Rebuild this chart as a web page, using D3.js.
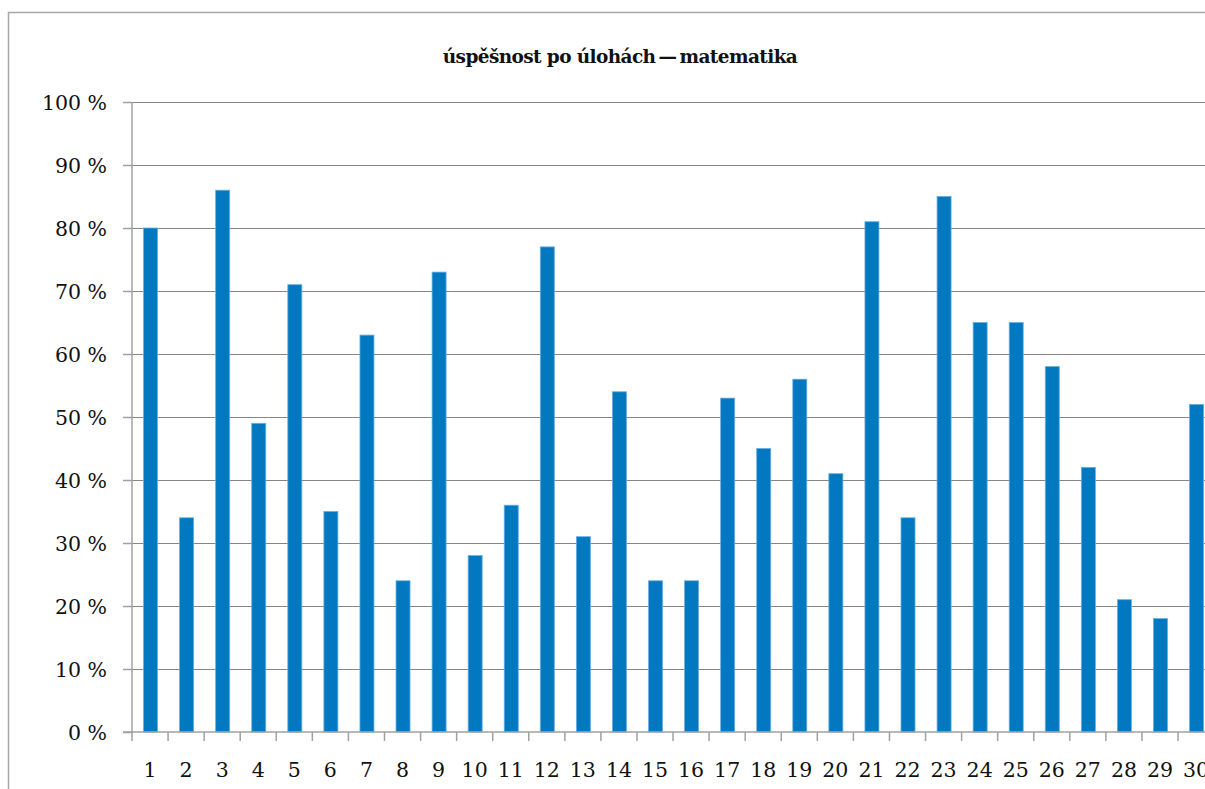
<!DOCTYPE html>
<html>
<head>
	<meta charset="utf-8">
	<title>úspěšnost po úlohách — matematika</title>
	<script src="https://d3js.org/d3.v7.min.js"></script>
	<style type="text/css">
		body {
			margin: 0;
			background: #fff;
		}
		svg {
			display: block;
		}
		.frame {
			fill: none;
			stroke: #a6a6a6;
			stroke-width: 1.5;
		}
		.grid line {
			stroke: #868686;
			stroke-width: 1;
		}
		.axis path, .axis line {
			stroke: #a0a0a0;
			stroke-width: 1.5;
		}
		.axis text {
			font-family: "DejaVu Serif", serif;
			font-size: 20.5px;
			fill: #111;
		}
		.bar {
			fill: #0178c0;
			stroke: #66aee0;
			stroke-width: 0.8;
		}
		.title {
			font-family: "DejaVu Serif", serif;
			font-weight: bold;
			font-size: 18px;
			letter-spacing: -0.6px;
			fill: #111;
		}
	</style>
</head>
<body>
<div id="chart"></div>
<script>
	// data
	var tasks = d3.range(1, 31).map(String);
	var success = [80, 34, 86, 49, 71, 35, 63, 24, 73, 28,
	               36, 77, 31, 54, 24, 24, 53, 45, 56, 41,
	               81, 34, 85, 65, 65, 58, 42, 21, 18, 52];
	var yTicks = [0, 10, 20, 30, 40, 50, 60, 70, 80, 90, 100];
	var title = "úspěšnost po úlohách\u2009—\u2009matematika";

	var width = 1205, height = 789;
	var margin = {top: 102, left: 132, bottom: 57};
	var step = 36.07;

	var svg = d3.select("#chart").append("svg")
		.attr("width", width)
		.attr("height", height);

	// chart frame (right side is cut off in the original)
	svg.append("rect")
		.attr("class", "frame")
		.attr("x", 8.5)
		.attr("y", 12.5)
		.attr("width", 1300)
		.attr("height", 900);

	var x = d3.scaleBand()
		.domain(tasks)
		.range([margin.left, margin.left + step * tasks.length])
		.padding(0);

	var y = d3.scaleLinear()
		.domain([0, 100])
		.range([height - margin.bottom, margin.top]);

	// horizontal gridlines
	svg.append("g")
		.attr("class", "grid")
		.selectAll("line")
		.data(yTicks.slice(1))
		.enter()
		.append("line")
		.attr("x1", margin.left)
		.attr("x2", width)
		.attr("y1", function(d){ return Math.round(y(d)) + 0.5; })
		.attr("y2", function(d){ return Math.round(y(d)) + 0.5; });

	// bars
	var barW = 14;
	svg.append("g")
		.selectAll("rect")
		.data(success)
		.enter()
		.append("rect")
		.attr("class", "bar")
		.attr("x", function(d, i){ return x(tasks[i]) + (x.bandwidth() - barW) / 2 + 0.5; })
		.attr("y", function(d){ return y(d); })
		.attr("width", barW)
		.attr("height", function(d){ return y(0) - y(d); });

	// y axis
	var yAxis = svg.append("g")
		.attr("class", "axis")
		.attr("transform", "translate(" + margin.left + ",0)")
		.call(d3.axisLeft(y)
			.tickValues(yTicks)
			.tickSize(9)
			.tickPadding(16)
			.tickFormat(function(d){ return d + " %"; }));
	yAxis.select(".domain").attr("d", "M0," + y(0) + "V" + y(100));
	yAxis.selectAll("text").attr("dy", "0.35em");

	// x axis with ticks between categories
	var xAxis = svg.append("g")
		.attr("class", "axis")
		.attr("transform", "translate(0," + y(0) + ")")
		.call(d3.axisBottom(x).tickSize(0).tickPadding(38));
	xAxis.select(".domain").attr("d", "M" + (margin.left - 9) + ",0H" + (width + 20));
	xAxis.selectAll("text").attr("dy", "0.35em");
	xAxis.selectAll(".sep")
		.data(tasks)
		.enter()
		.append("line")
		.attr("class", "sep")
		.attr("x1", function(d){ return x(d); })
		.attr("x2", function(d){ return x(d); })
		.attr("y1", 0)
		.attr("y2", 9)
		.attr("stroke", "#a0a0a0")
		.attr("stroke-width", 1.5);

	// title, sized to the width it has in the original
	var t = svg.append("text")
		.attr("class", "title")
		.attr("x", 620)
		.attr("y", 63)
		.attr("text-anchor", "middle")
		.text(title);
	var tw = t.node().getComputedTextLength();
	t.style("font-size", (18 * 354 / tw).toFixed(2) + "px");
</script>
</body>
</html>
